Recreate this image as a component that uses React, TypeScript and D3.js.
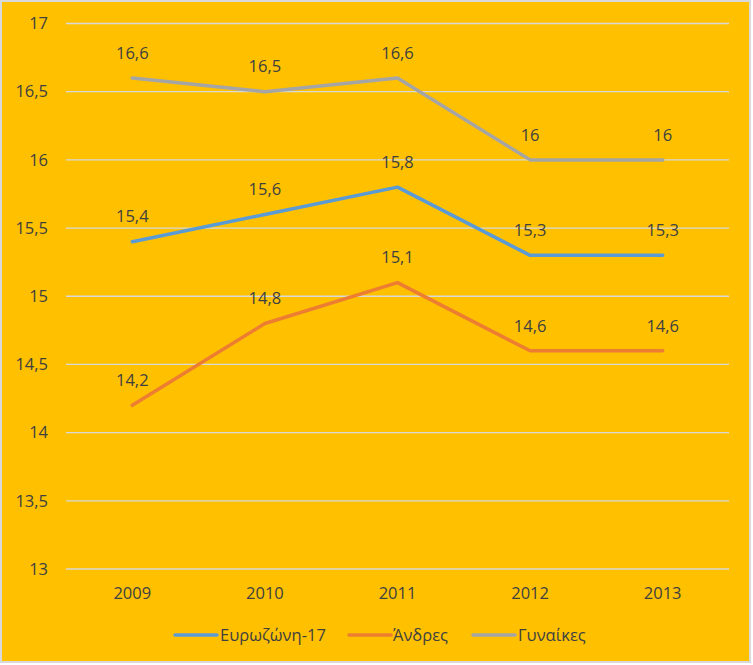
import React from "react";
import * as d3 from "d3";

const years = ["2009", "2010", "2011", "2012", "2013"];
const eurozone = [15.4, 15.6, 15.8, 15.3, 15.3];
const men = [14.2, 14.8, 15.1, 14.6, 14.6];
const women = [16.6, 16.5, 16.6, 16.0, 16.0];
const seriesNames = ["Ευρωζώνη-17", "Άνδρες", "Γυναίκες"];
const seriesColors = ["#5B9BD5", "#ED7D31", "#A5A5A5"];
const yTicks = [13, 13.5, 14, 14.5, 15, 15.5, 16, 16.5, 17];

const W = 753;
const H = 665;
const fmt = (v: number) => String(v).replace(".", ",");

export default function App() {
  const x = d3.scaleBand().domain(years).range([66, 729]);
  const y = d3.scaleLinear().domain([13, 17]).range([569, 23.5]);
  const line = d3
    .line<number>()
    .x((_, i) => (x(years[i]) as number) + x.bandwidth() / 2)
    .y((d) => y(d));
  const series = [eurozone, men, women];
  const font = "'Open Sans', sans-serif";
  const fs = 16.5;
  const legendItems = [
    { x: 175, tx: 220 },
    { x: 349, tx: 393 },
    { x: 473, tx: 518 },
  ];
  return (
    <svg
      width={W}
      height={H}
      style={{ position: "absolute", left: 0, top: 0 }}
      fontFamily={font}
    >
      <rect x={1} y={1} width={W - 4} height={H - 4} fill="#FFC000" stroke="#D9D9D9" strokeWidth={2} />
      {yTicks.map((t) => (
        <g key={t}>
          <line x1={66} x2={729} y1={y(t)} y2={y(t)} stroke="#D9D9D9" strokeWidth={1.3} />
          <text x={48} y={y(t)} dy="0.35em" textAnchor="end" fontSize={fs} fill="#404040">
            {fmt(t)}
          </text>
        </g>
      ))}
      {years.map((yr) => (
        <text
          key={yr}
          x={(x(yr) as number) + x.bandwidth() / 2}
          y={593}
          dy="0.35em"
          textAnchor="middle"
          fontSize={fs}
          fill="#404040"
        >
          {yr}
        </text>
      ))}
      {series.map((s, si) => (
        <path
          key={si}
          d={line(s) || ""}
          fill="none"
          stroke={seriesColors[si]}
          strokeWidth={3.5}
          strokeLinejoin="round"
          strokeLinecap="round"
        />
      ))}
      {series.map((s, si) =>
        s.map((v, i) => (
          <text
            key={si + "-" + i}
            x={(x(years[i]) as number) + x.bandwidth() / 2}
            y={y(v) - 25}
            dy="0.35em"
            textAnchor="middle"
            fontSize={fs}
            fill="#404040"
          >
            {fmt(v)}
          </text>
        ))
      )}
      {legendItems.map((li, i) => (
        <g key={i}>
          <line x1={li.x} x2={li.x + 42} y1={635} y2={635} stroke={seriesColors[i]} strokeWidth={3.5} strokeLinecap="round" />
          <text x={li.tx} y={635} dy="0.35em" fontSize={fs} fill="#404040">
            {seriesNames[i]}
          </text>
        </g>
      ))}
    </svg>
  );
}
